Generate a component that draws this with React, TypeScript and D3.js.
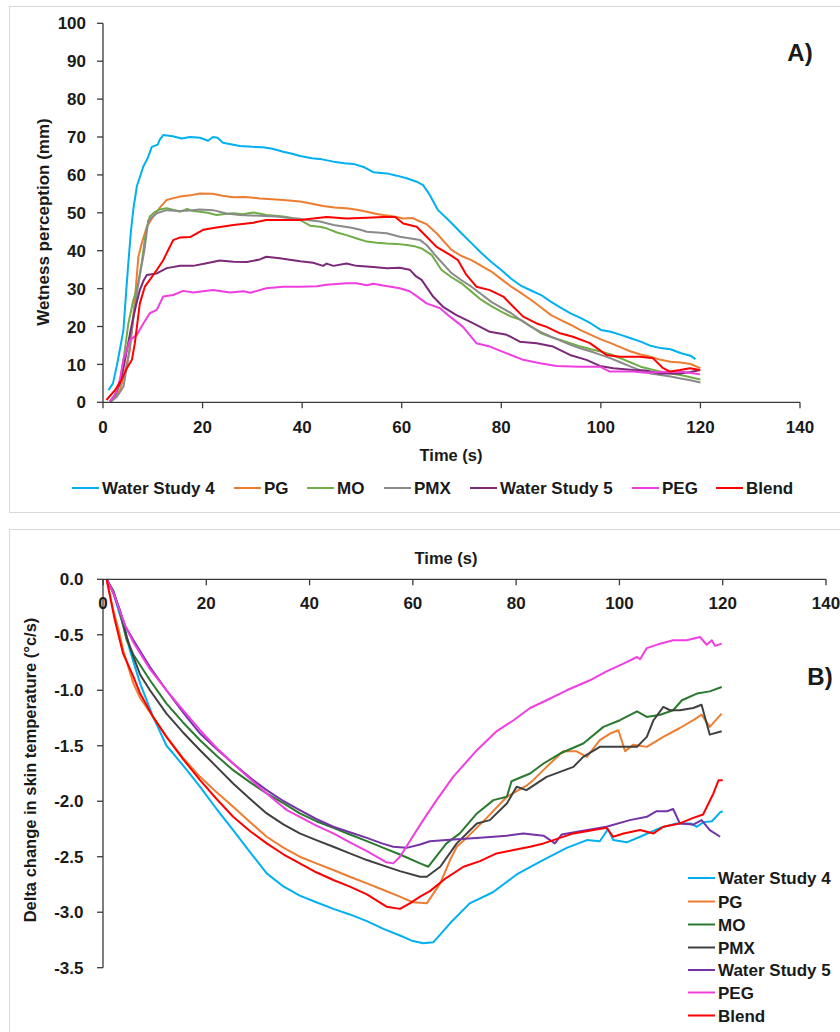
import React from 'react';
import * as d3 from 'd3';

type Pt = [number, number];

// ---- Series labels, colours and axis ticks ----
const seriesNames = ['Water Study 4', 'PG', 'MO', 'PMX', 'Water Study 5', 'PEG', 'Blend'];
const colorsA = ['#00b0f0', '#ed7d31', '#70ad47', '#8a8a8a', '#7a2a78', '#f03ee0', '#ff0000'];
const colorsB = ['#00b0f0', '#ed7d31', '#2a7a2e', '#404040', '#7434a8', '#f03ee0', '#ff0000'];
const timeTicks = [0, 20, 40, 60, 80, 100, 120, 140];
const wetnessTicks = [0, 10, 20, 30, 40, 50, 60, 70, 80, 90, 100];
const deltaTicks = [0, -0.5, -1, -1.5, -2, -2.5, -3, -3.5];

// ---- A) Wetness perception (mm) vs time (s) ----
const waterStudy4A: Pt[] = [[1.1,3.2],[2,5],[2.8,9.8],[3.4,14],[4.1,19],[4.7,30],[5.1,37],[5.6,45],[6.1,51],[6.8,57],[8.1,62.2],[9,64.5],[9.8,67.4],[11,68],[11.4,69.3],[12.1,70.5],[14,70.2],[15.8,69.6],[17.5,70],[19.5,69.8],[21.1,69],[22.1,70],[23,69.8],[24.1,68.5],[27.5,67.6],[30,67.4],[32.1,67.3],[34,66.9],[36.2,66.1],[38,65.6],[39.6,65],[42,64.4],[44,64.1],[46.3,63.5],[48.5,63.1],[50.3,62.9],[52.5,62],[54.3,60.7],[57,60.4],[59,59.8],[61,59.1],[63,58.2],[64.3,57.3],[65.5,55],[67.3,50.7],[69.7,47.7],[72,44.6],[74,42],[76,39.4],[78,37],[80,34.9],[82,32.6],[84,30.7],[86,29.5],[88,28.3],[90,26.5],[92,24.9],[94,23.4],[96,22.2],[98,20.8],[100,19.1],[102,18.6],[104,17.8],[106,16.9],[108,16],[110,14.9],[112,14.3],[114,14],[116,13],[118,12.3],[119,11.4]];
const pgA: Pt[] = [[1.4,0.2],[2.5,1.5],[3.4,3.2],[4.4,8],[5.4,13.8],[6.4,27],[7.1,38.4],[7.8,42],[8.8,46.3],[10.1,49],[11.5,51.5],[12.8,53.4],[14,53.8],[15.5,54.3],[17.5,54.6],[19.5,55.1],[22,55],[24,54.5],[26.2,54.1],[28.5,54.2],[31.5,53.8],[34,53.6],[36.2,53.4],[39.6,53],[42,52.4],[44.2,51.8],[46.5,51.4],[48.9,51.2],[51,50.8],[53,50.3],[55,49.7],[56.3,49.4],[58.5,49],[60.3,48.5],[62.2,48.6],[63.7,47.7],[65,47],[67,44.6],[70,40.2],[72,38.6],[74,37.5],[76,36],[78,34.5],[80,32.5],[82,30.5],[84,28.8],[86,27],[88,25],[90,23],[92,21.7],[94,20.4],[96,19],[98,17.8],[100,16.6],[102,15.6],[104,14.5],[106,13.4],[108,12.6],[110,12],[112,11.2],[114,10.7],[116,10.5],[118,10.1],[120,9]];
const moA: Pt[] = [[1.4,0.2],[2.4,1.5],[3.4,5],[4.3,13],[5.1,20.8],[6.1,27],[7,31],[7.8,37],[8.3,42],[8.8,46],[9.4,49],[10.4,50.2],[11.4,50.9],[12.8,51.2],[14,50.8],[15.5,50.3],[16.9,51],[18,50.5],[19.5,50.3],[21,50],[22.8,49.4],[24.5,49.7],[26.2,49.9],[28,49.6],[30.2,50.1],[32.8,49.4],[34.5,49.2],[36.2,49],[38,48.6],[39.6,48.1],[41.6,46.6],[43.5,46.3],[44.9,45.9],[47,44.8],[48.9,44.1],[51,43.2],[53,42.4],[55,42.1],[57,41.9],[59,41.8],[61,41.5],[62.5,41.2],[64,40.6],[66,38.9],[68,34.9],[70,33],[72,31.4],[74,29.2],[76,27],[78,25.4],[80,23.9],[82,22.6],[84,21.7],[86,20],[88,18.2],[90,17.2],[92,16.4],[94,15.5],[96,14.7],[98,14],[100,13.4],[102,12.6],[104,11.6],[106,10.5],[108,9.4],[110,8.7],[112,8.1],[114,7.6],[116,7.2],[118,6.6],[120,6]];
const pmxA: Pt[] = [[1.6,0.2],[2.8,1.5],[4.1,4.1],[5,11],[5.8,19],[6.8,28.8],[7.6,35],[8.3,40],[9.1,48],[10.8,49.9],[12.8,50.7],[15.5,50.5],[17.5,50.6],[19.5,50.9],[22.1,50.7],[24.8,49.8],[27.5,49.4],[31.5,49.2],[34.8,49],[37,48.7],[39.6,48.4],[41.5,48],[43.6,47.7],[46.3,46.8],[49.6,46.1],[51.5,45.6],[53,45],[55,44.8],[57,44.6],[59.6,43.7],[61.5,43.3],[63.7,42.8],[65,41.5],[67,38.4],[70,34.1],[72,32.2],[74,30.5],[76,28.5],[78,26.5],[80,25],[82,23.5],[84,21.6],[86,19.9],[88,18.5],[90,17.3],[92,16.2],[94,15.1],[96,14.2],[98,13.4],[100,12.5],[102,11.6],[104,10.5],[106,9.4],[108,8.4],[110,7.6],[112,7.2],[114,6.8],[116,6.3],[118,5.8],[120,5.2]];
const waterStudy5A: Pt[] = [[1.4,0.2],[2.4,2],[3.4,5],[4.1,9],[4.8,13.8],[5.4,18],[6.1,22.6],[6.8,26.5],[7.4,29.6],[8.1,32],[8.8,33.6],[10.8,34],[12.8,35.4],[15.5,36],[18.1,36],[20.8,36.7],[23.5,37.4],[26.2,37.1],[28.9,37],[31.5,37.7],[32.8,38.4],[35.5,38],[37.5,37.6],[39.6,37.2],[42.2,36.8],[44.2,36],[44.9,36.6],[46.3,36],[48.9,36.6],[50.9,36],[54.3,35.7],[57,35.4],[59.6,35.5],[61.6,35],[62.9,33.2],[64,32.3],[66.3,27.9],[68.3,25.2],[71,23],[74.4,20.8],[77.7,18.6],[81.1,17.8],[83.7,16],[87.1,15.6],[90.4,14.7],[93.8,12.5],[97.1,11.2],[99.8,9.6],[102.5,9],[106.5,8.5],[109,8.4],[111.8,7.6],[115.9,7.6],[118,8],[120,8.5]];
const pegA: Pt[] = [[1.4,0.2],[2.4,2],[3.4,6],[4.1,11.2],[5.4,16.4],[6.8,17.8],[8.1,20.8],[9.4,23.5],[10.8,24.4],[12.1,27.9],[14.1,28.3],[16.1,29.4],[18.1,29],[22.1,29.6],[25.5,29],[28.2,29.3],[29.6,28.9],[32.8,30.1],[36.2,30.5],[39.6,30.5],[43,30.6],[44.9,31],[48.9,31.4],[50.9,31.4],[53,30.9],[54.3,31.3],[56.3,30.8],[59.6,30.1],[61.6,29.3],[63,28],[65,26.1],[67.7,24.8],[69.7,22.6],[72.3,19.9],[75,15.6],[77.7,14.7],[81.1,12.9],[84.4,11.2],[87.8,10.3],[91.1,9.6],[95.7,9.4],[99.8,9.4],[101.8,8.1],[106.5,8.1],[109,7.8],[112,8],[115.9,8.1],[119.9,7.4]];
const blendA: Pt[] = [[0.7,0.6],[2.4,3.2],[3.7,5.9],[4.8,9],[5.8,11.2],[6.4,15.6],[7.4,26.1],[8.4,30.5],[9.4,32.3],[10.8,34.9],[12.1,37.5],[13.1,40.2],[14.1,42.8],[15.5,43.5],[17.5,43.6],[20.1,45.5],[22.8,46.1],[26.2,46.8],[30.2,47.4],[32.8,48.1],[36.2,48.1],[39.6,48.1],[42.2,48.5],[44.9,48.9],[48.9,48.5],[53,48.7],[56.3,48.9],[58.7,48.9],[60.3,47.2],[63,46.3],[65,43.7],[67,41],[69.7,38.9],[71.3,37.5],[73,33.6],[75,30.5],[77.7,29.6],[80.4,27.9],[82.4,25.2],[84.4,22.6],[87.1,20.8],[89.1,19.9],[91.8,18.2],[94.4,17.3],[97.8,15.6],[101.1,12.5],[103.8,12],[107.8,12],[110.5,11.6],[112.5,9],[113.9,8.1],[115.9,8.5],[117.9,9],[119.9,8.5]];

// ---- B) Delta change in skin temperature (°c/s) vs time (s) ----
const waterStudy4B: Pt[] = [[0.7,0],[2,-0.12],[3,-0.28],[4.3,-0.46],[5.2,-0.64],[7.2,-0.94],[9.7,-1.24],[12.3,-1.5],[13.6,-1.57],[15.9,-1.7],[18.8,-1.87],[22,-2.07],[25.2,-2.26],[28.5,-2.46],[31.7,-2.65],[35,-2.77],[38.1,-2.85],[41.3,-2.91],[44.6,-2.97],[47.8,-3.02],[51.1,-3.08],[54.3,-3.15],[57.5,-3.21],[60,-3.26],[62,-3.28],[64,-3.27],[67.2,-3.1],[71,-2.92],[75.5,-2.82],[80.1,-2.66],[85.2,-2.53],[89.8,-2.42],[93.7,-2.35],[96.2,-2.36],[97.8,-2.25],[98.8,-2.35],[101.4,-2.37],[104,-2.32],[107.9,-2.24],[111,-2.2],[113.7,-2.2],[115,-2.23],[116.2,-2.19],[117.9,-2.18],[119.5,-2.1],[120,-2.09]];
const pgB: Pt[] = [[0.7,0],[2,-0.28],[3,-0.45],[3.9,-0.64],[5.9,-0.94],[7.2,-1.07],[9.1,-1.2],[12.3,-1.42],[15.5,-1.61],[18.8,-1.78],[22,-1.92],[25.2,-2.05],[28.5,-2.19],[31.7,-2.32],[35,-2.42],[38.1,-2.5],[41.3,-2.56],[44.6,-2.62],[47.8,-2.68],[51.1,-2.74],[54.3,-2.8],[57.5,-2.86],[60,-2.91],[62.7,-2.92],[65.3,-2.74],[67.2,-2.53],[68.5,-2.41],[70.4,-2.33],[74.3,-2.15],[78.2,-1.96],[82,-1.86],[83.3,-1.81],[85.9,-1.69],[89.1,-1.55],[91.7,-1.55],[93.7,-1.6],[96.2,-1.45],[98.2,-1.39],[99.8,-1.36],[101.1,-1.55],[102.7,-1.49],[105.3,-1.51],[108.5,-1.42],[111.7,-1.34],[114.3,-1.27],[115.9,-1.22],[117.5,-1.33],[119.8,-1.21]];
const moB: Pt[] = [[0.7,0],[2,-0.1],[3,-0.25],[4.6,-0.55],[5.9,-0.68],[9.1,-0.91],[12.3,-1.12],[15.5,-1.29],[18.8,-1.45],[22,-1.59],[25.2,-1.72],[28.5,-1.83],[31.7,-1.93],[35,-2.02],[38.1,-2.11],[41.3,-2.18],[44.6,-2.24],[47.8,-2.3],[51.1,-2.36],[54.3,-2.42],[57.5,-2.48],[61.4,-2.56],[63,-2.59],[66.5,-2.38],[69.1,-2.29],[72.4,-2.11],[75.6,-1.99],[78.2,-1.96],[79.1,-1.82],[82.7,-1.75],[85.3,-1.66],[88.5,-1.57],[93,-1.48],[96.9,-1.33],[100.1,-1.27],[103.4,-1.19],[105.3,-1.24],[107.9,-1.22],[110.4,-1.18],[112.1,-1.09],[115,-1.03],[117.5,-1.01],[119.8,-0.97]];
const pmxB: Pt[] = [[0.7,0],[2,-0.12],[3.3,-0.28],[4.6,-0.52],[5.9,-0.7],[7.2,-0.86],[9.1,-1.0],[12.3,-1.21],[15.5,-1.38],[18.8,-1.54],[22,-1.69],[25.2,-1.84],[28.5,-1.98],[31.7,-2.11],[35,-2.21],[38.1,-2.29],[41.3,-2.35],[44.6,-2.41],[47.8,-2.47],[51.1,-2.53],[54.3,-2.58],[57.5,-2.63],[61.4,-2.68],[62.7,-2.68],[65.3,-2.59],[68.5,-2.38],[72.4,-2.2],[74.9,-2.17],[78.2,-2.02],[80.1,-1.87],[82,-1.9],[85.9,-1.78],[91.1,-1.69],[93,-1.6],[96.2,-1.51],[100.1,-1.51],[103.4,-1.51],[105.3,-1.42],[106.6,-1.27],[108.5,-1.15],[109.8,-1.18],[111.7,-1.18],[114.3,-1.16],[115.9,-1.13],[117.5,-1.4],[119.8,-1.37]];
const waterStudy5B: Pt[] = [[0.7,0],[2,-0.12],[3,-0.25],[4.3,-0.42],[5.9,-0.55],[9.1,-0.79],[12.3,-1.0],[15.5,-1.2],[18.8,-1.39],[22,-1.53],[25.2,-1.66],[29.1,-1.81],[31.7,-1.9],[35,-2.0],[38.1,-2.08],[41.3,-2.16],[44.6,-2.23],[47.8,-2.28],[51.1,-2.33],[54,-2.38],[56.2,-2.41],[58.8,-2.42],[61.4,-2.39],[63.3,-2.36],[66.5,-2.35],[73,-2.33],[78.2,-2.31],[81.4,-2.29],[85.3,-2.31],[87.5,-2.38],[88.8,-2.3],[92.4,-2.27],[97.5,-2.23],[102,-2.17],[105.3,-2.14],[107.2,-2.09],[109.2,-2.09],[110.4,-2.07],[111.7,-2.2],[114.3,-2.21],[115.9,-2.17],[117.5,-2.26],[119.5,-2.32]];
const pegB: Pt[] = [[0.7,0],[2,-0.12],[3,-0.25],[4.3,-0.42],[5.9,-0.57],[9.1,-0.81],[12.3,-1.0],[15.5,-1.18],[18.8,-1.36],[22,-1.52],[25.2,-1.66],[28.5,-1.8],[31.7,-1.93],[35.6,-2.08],[38.1,-2.14],[41.3,-2.22],[44.6,-2.29],[47.8,-2.37],[51.1,-2.45],[54.9,-2.55],[56.2,-2.56],[57.5,-2.5],[59.4,-2.36],[62,-2.17],[64.6,-1.99],[67.8,-1.78],[72.4,-1.54],[76.2,-1.37],[79.5,-1.27],[82.7,-1.16],[85.9,-1.09],[89.8,-1.0],[94.3,-0.91],[97.5,-0.83],[100.8,-0.76],[103.4,-0.7],[104,-0.72],[105.3,-0.62],[107.9,-0.58],[110.4,-0.55],[113,-0.55],[115.6,-0.52],[116.9,-0.59],[117.9,-0.55],[118.5,-0.6],[119.8,-0.58]];
const blendB: Pt[] = [[0.7,0],[2.3,-0.37],[3.9,-0.67],[5.9,-0.88],[7.2,-1.03],[9.7,-1.24],[12.3,-1.42],[15.5,-1.62],[18.8,-1.81],[22,-1.98],[25.2,-2.14],[28.5,-2.27],[31.7,-2.38],[35,-2.48],[38.1,-2.56],[41.3,-2.64],[44.6,-2.71],[47.8,-2.77],[51.1,-2.84],[54.9,-2.95],[57.5,-2.97],[59.4,-2.92],[61.4,-2.86],[63.3,-2.81],[66.5,-2.69],[69.8,-2.59],[73,-2.54],[76.2,-2.47],[79.5,-2.44],[82.7,-2.41],[85.3,-2.38],[87.2,-2.35],[91.1,-2.29],[95,-2.26],[97.5,-2.24],[98.8,-2.32],[100.8,-2.29],[104,-2.26],[106.6,-2.29],[108.5,-2.23],[111.7,-2.2],[114.3,-2.15],[116.2,-2.12],[118.2,-1.93],[119.2,-1.81],[120,-1.81]];

const seriesA = [waterStudy4A, pgA, moA, pmxA, waterStudy5A, pegA, blendA];
const seriesB = [waterStudy4B, pgB, moB, pmxB, waterStudy5B, pegB, blendB];

const FONT = '"Liberation Sans", Arial, sans-serif';
const AXIS = '#3a3a3a';

export default function App() {
  // Panel A scales
  const xA = d3.scaleLinear().domain([0, 140]).range([103, 800]);
  const yA = d3.scaleLinear().domain([0, 100]).range([402.3, 23.3]);
  // Panel B scales
  const xB = d3.scaleLinear().domain([0, 140]).range([103, 826]);
  const yB = d3.scaleLinear().domain([0, -3.5]).range([579.3, 967.7]);

  const lineA = d3.line<Pt>().x(d => xA(d[0])).y(d => yA(d[1]));
  const lineB = d3.line<Pt>().x(d => xB(d[0])).y(d => yB(d[1]));

  const legendAX = [72, 234, 307, 384, 470, 632, 716];
  const legendBY = [878, 901.5, 924.5, 947.5, 970, 992.5, 1015.5];

  const txt = { fontFamily: FONT, fontWeight: 700 as const, fill: '#1a1a1a' };

  return (
    <svg width={840} height={1032} style={{ position: 'absolute', left: 0, top: 0, background: '#fff' }}>
      {/* panel frames */}
      <rect x={9.5} y={6.5} width={900} height={506} fill="#fff" stroke="#d9d9d9" strokeWidth={1} />
      <rect x={9.5} y={529.5} width={900} height={600} fill="#fff" stroke="#d9d9d9" strokeWidth={1} />

      {/* ===== Panel A ===== */}
      <g>
        {seriesA.map((s, i) => (
          <path key={i} d={lineA(s) || ''} fill="none" stroke={colorsA[i]} strokeWidth={2} strokeLinejoin="round" />
        ))}
        <line x1={xA(0)} x2={xA(0)} y1={yA(100)} y2={yA(0)} stroke={AXIS} strokeWidth={1.3} />
        <line x1={xA(0)} x2={xA(140)} y1={yA(0)} y2={yA(0)} stroke={AXIS} strokeWidth={1.3} />
        {wetnessTicks.map(t => (
          <g key={t}>
            <line x1={xA(0) - 6} x2={xA(0)} y1={yA(t)} y2={yA(t)} stroke={AXIS} strokeWidth={1.3} />
            <text x={86} y={yA(t)} dy="0.36em" textAnchor="end" fontSize={17} {...txt}>{t}</text>
          </g>
        ))}
        {timeTicks.map(t => (
          <g key={t}>
            <line x1={xA(t)} x2={xA(t)} y1={yA(0)} y2={yA(0) + 6} stroke={AXIS} strokeWidth={1.3} />
            <text x={xA(t)} y={432.5} textAnchor="middle" fontSize={17} {...txt}>{t}</text>
          </g>
        ))}
        <text x={451} y={461} textAnchor="middle" fontSize={16.5} {...txt}>Time (s)</text>
        <text transform="translate(43,222) rotate(-90)" dy="0.36em" textAnchor="middle" fontSize={17} {...txt}>
          Wetness perception (mm)
        </text>
        <text x={800} y={61} textAnchor="middle" fontSize={24} {...txt}>A)</text>
        {seriesNames.map((n, i) => (
          <g key={n}>
            <line x1={legendAX[i]} x2={legendAX[i] + 27} y1={488} y2={488} stroke={colorsA[i]} strokeWidth={2} />
            <text x={legendAX[i] + 30} y={488} dy="0.36em" fontSize={17} {...txt}>{n}</text>
          </g>
        ))}
      </g>

      {/* ===== Panel B ===== */}
      <g>
        {seriesB.map((s, i) => (
          <path key={i} d={lineB(s) || ''} fill="none" stroke={colorsB[i]} strokeWidth={2} strokeLinejoin="round" />
        ))}
        <line x1={xB(0)} x2={xB(0)} y1={yB(0)} y2={yB(-3.5)} stroke={AXIS} strokeWidth={1.3} />
        <line x1={xB(0)} x2={xB(140)} y1={yB(0)} y2={yB(0)} stroke={AXIS} strokeWidth={1.3} />
        {deltaTicks.map(t => (
          <g key={t}>
            <line x1={xB(0) - 6} x2={xB(0)} y1={yB(t)} y2={yB(t)} stroke={AXIS} strokeWidth={1.3} />
            <text x={83.5} y={yB(t)} dy="0.36em" textAnchor="end" fontSize={17} {...txt}>{d3.format('.1f')(t).replace('−', '-')}</text>
          </g>
        ))}
        {timeTicks.map(t => (
          <g key={t}>
            <line x1={xB(t)} x2={xB(t)} y1={yB(0)} y2={yB(0) + 6} stroke={AXIS} strokeWidth={1.3} />
            <text x={xB(t)} y={609} textAnchor="middle" fontSize={17} {...txt}>{t}</text>
          </g>
        ))}
        <text x={446} y={564} textAnchor="middle" fontSize={16.5} {...txt}>Time (s)</text>
        <text transform="translate(30,770) rotate(-90)" dy="0.36em" textAnchor="middle" fontSize={16.5} {...txt}>
          Delta change in skin temperature (°c/s)
        </text>
        <text x={820} y={685} textAnchor="middle" fontSize={24} {...txt}>B)</text>
        {seriesNames.map((n, i) => (
          <g key={n}>
            <line x1={688} x2={715} y1={legendBY[i]} y2={legendBY[i]} stroke={colorsB[i]} strokeWidth={2} />
            <text x={718} y={legendBY[i]} dy="0.36em" fontSize={17} {...txt}>{n}</text>
          </g>
        ))}
      </g>
    </svg>
  );
}
